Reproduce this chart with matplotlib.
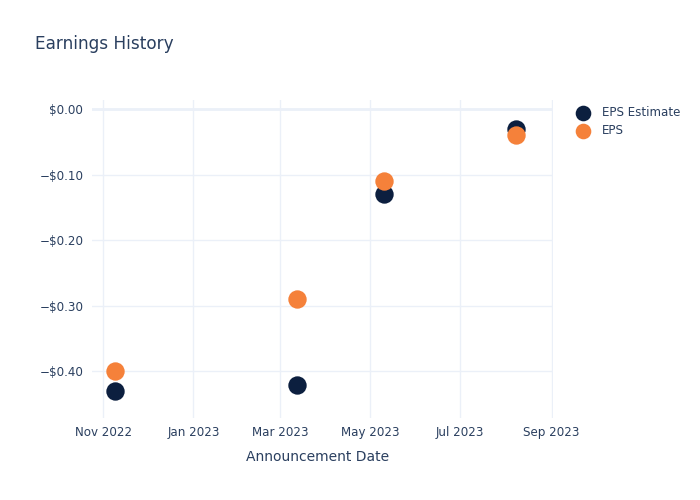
import matplotlib
matplotlib.use("Agg")
import matplotlib.pyplot as plt
import matplotlib.dates as mdates
from matplotlib.ticker import FuncFormatter
import numpy as np

dates = np.array(["2022-11-09", "2023-03-12", "2023-05-10", "2023-08-08"], dtype="datetime64[D]")
eps_estimate = [-0.43, -0.42, -0.13, -0.03]
eps_actual = [-0.40, -0.29, -0.11, -0.04]

text_col = "#2a3f5f"
grid_col = "#ebf0f8"

fig = plt.figure(figsize=(7, 5), dpi=100)
ax = fig.add_axes([0.131, 0.164, 0.659, 0.636])

ax.scatter(dates, eps_estimate, s=175, color="#0c1f3f", label="EPS Estimate", zorder=3, linewidths=0)
ax.scatter(dates, eps_actual, s=175, color="#f5813a", label="EPS", zorder=4, linewidths=0)

ax.set_xlim(np.datetime64("2022-10-24"), np.datetime64("2023-09-02"))
ax.set_ylim(-0.471, 0.0136)

ax.xaxis.set_major_locator(mdates.MonthLocator(bymonth=[1, 3, 5, 7, 9, 11]))
ax.xaxis.set_major_formatter(mdates.DateFormatter("%b %Y"))
ax.set_yticks([0, -0.1, -0.2, -0.3, -0.4])
ax.yaxis.set_major_formatter(FuncFormatter(lambda v, p: ("\u2212$%.2f" % abs(v)) if v < -1e-9 else "$%.2f" % abs(v)))

ax.grid(True, color=grid_col, linewidth=1)
ax.axhline(0, color=grid_col, linewidth=2, zorder=1)
for s in ax.spines.values():
    s.set_visible(False)
ax.tick_params(length=0, labelsize=8.6, labelcolor=text_col, pad=6)
ax.set_axisbelow(True)

ax.set_xlabel("Announcement Date", fontsize=10, color=text_col, labelpad=10)
ax.xaxis.set_label_coords(0.489, -0.1)
fig.text(0.05, 0.912, "Earnings History", fontsize=12.2, color=text_col, va="center")

leg = ax.legend(loc="upper left", bbox_to_anchor=(1.015, 1.015), frameon=False, fontsize=8.6,
                labelcolor=text_col, markerscale=0.85, handletextpad=0.6, labelspacing=0.45)

fig.savefig("out.png", dpi=100)
